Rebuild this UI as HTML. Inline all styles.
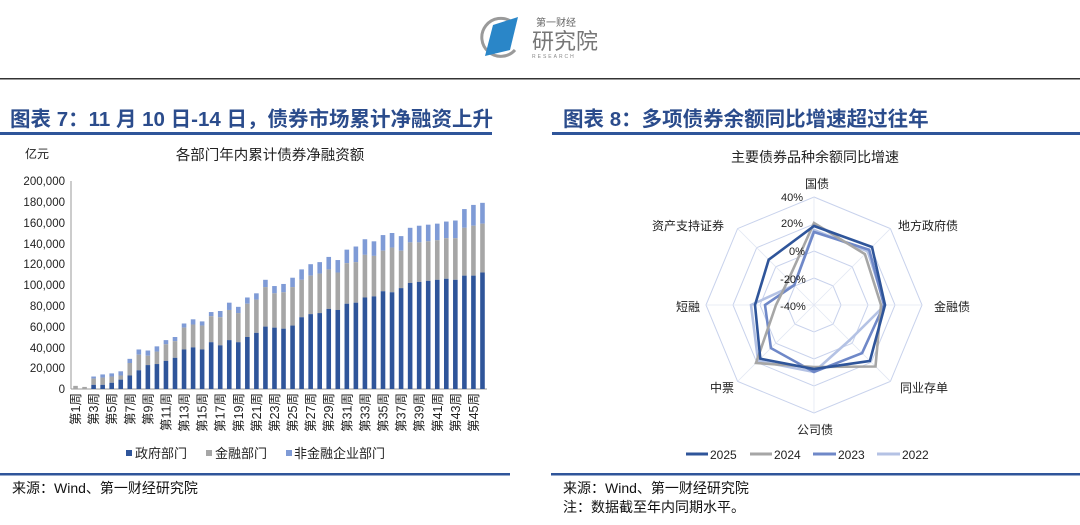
<!DOCTYPE html>
<html><head><meta charset="utf-8"><style>
body{margin:0;background:#fff;width:1080px;height:525px;overflow:hidden}
svg{display:block;font-family:"Liberation Sans","Noto Sans CJK SC",sans-serif}
</style></head><body>
<svg id="s" width="1080" height="525" viewBox="0 0 1080 525">
<!-- logo -->
<path d="M512,22 A19,19 0 1 0 515,50" fill="none" stroke="#9a9a9a" stroke-width="3"/>
<polygon points="493,25 518,17 510,50 485,56" fill="#2a86c8"/>
<text x="536" y="26" font-size="10" fill="#666">第一财经</text>
<text x="532" y="49" font-size="22" fill="#777">研究院</text>
<text x="532" y="58" font-size="5" fill="#888" letter-spacing="2">RESEARCH</text>
<rect x="0" y="78" width="1080" height="1.5" fill="#333"/>
<!-- headings -->
<text x="10" y="126" font-size="20.5" font-weight="bold" fill="#2B4C8C">图表 7：11 月 10 日-14 日，债券市场累计净融资上升</text>
<text x="563" y="126" font-size="20.5" font-weight="bold" fill="#2B4C8C">图表 8：多项债券余额同比增速超过往年</text>
<rect x="0" y="132" width="492" height="3" fill="#2F559A"/>
<rect x="552" y="132" width="528" height="3" fill="#2F559A"/>
<rect x="0" y="473" width="510" height="2.5" fill="#2F559A"/>
<rect x="551" y="473" width="529" height="2.5" fill="#2F559A"/>
<text x="12" y="493" font-size="14" fill="#111">来源：Wind、第一财经研究院</text>
<text x="563" y="493" font-size="14" fill="#111">来源：Wind、第一财经研究院</text>
<text x="563" y="512" font-size="14" fill="#111">注：数据截至年内同期水平。</text>
<!-- bar chart -->
<text x="25" y="158" font-size="12" fill="#222">亿元</text>
<text x="270" y="160" font-size="14.5" fill="#222" text-anchor="middle">各部门年内累计债券净融资额</text>
<g font-size="11.5" fill="#222" text-anchor="end">
<text x="65" y="185">200,000</text><text x="65" y="206">180,000</text><text x="65" y="227">160,000</text><text x="65" y="248">140,000</text><text x="65" y="268">120,000</text><text x="65" y="289">100,000</text><text x="65" y="310">80,000</text><text x="65" y="331">60,000</text><text x="65" y="352">40,000</text><text x="65" y="372">20,000</text><text x="65" y="393">0</text>
</g>
<line x1="71" y1="181" x2="71" y2="389" stroke="#999"/>
<line x1="71" y1="389" x2="487" y2="389" stroke="#999"/>
<g id="bars"></g>
<g id="xl" font-size="12.5" fill="#222" text-anchor="end"></g>
<rect x="126" y="450" width="6" height="6" fill="#2F559A"/><text x="135" y="458" font-size="13" fill="#222">政府部门</text>
<rect x="206" y="450" width="6" height="6" fill="#A6A6A6"/><text x="215" y="458" font-size="13" fill="#222">金融部门</text>
<rect x="286" y="450" width="6" height="6" fill="#7F9BD6"/><text x="294" y="458" font-size="13" fill="#222">非金融企业部门</text>
<!-- radar -->
<text x="815" y="162" font-size="14" fill="#222" text-anchor="middle">主要债券品种余额同比增速</text>
<g id="radar"></g>
<g font-size="12" fill="#222" text-anchor="middle">
<text x="817" y="188">国债</text>
<text x="928" y="230">地方政府债</text>
<text x="952" y="311">金融债</text>
<text x="924" y="392">同业存单</text>
<text x="815" y="434">公司债</text>
<text x="722" y="392">中票</text>
<text x="688" y="311">短融</text>
<text x="688" y="230">资产支持证券</text>
</g>
<g font-size="11" fill="#222" text-anchor="middle">
<text x="792" y="201">40%</text><text x="792" y="227">20%</text><text x="797" y="255">0%</text><text x="793" y="283">-20%</text><text x="793" y="310">-40%</text>
</g>
<g font-size="12" fill="#222">
<line x1="686" y1="454" x2="708" y2="454" stroke="#2F559A" stroke-width="3"/><text x="710" y="459">2025</text>
<line x1="750" y1="454" x2="772" y2="454" stroke="#A6A6A6" stroke-width="3"/><text x="774" y="459">2024</text>
<line x1="813" y1="454" x2="836" y2="454" stroke="#6F88C8" stroke-width="3"/><text x="838" y="459">2023</text>
<line x1="877" y1="454" x2="900" y2="454" stroke="#B4C2E4" stroke-width="3"/><text x="902" y="459">2022</text>
</g>
</svg>
<script>
var NS="http://www.w3.org/2000/svg";
function el(p,t,a){var e=document.createElementNS(NS,t);for(var k in a)e.setAttribute(k,a[k]);p.appendChild(e);return e;}
var d=[[3,0,3],[2,0,2],[12,4,10],[14,4,11],[15,6,12],[17,9,13],[29,13,25],[38,18,33],[37,23,32],[41,24,36],[47,27,43],[50,30,46],[63,38,59],[67,40,62],[65,38,61],[74,45,70],[75,42,69],[83,47,76],[79,45,73],[88,50,82],[92,54,86],[105,60,98],[99,59,92],[101,58,93],[107,61,98],[115,69,105],[120,72,109],[122,73,111],[127,77,115],[124,76,112],[134,82,121],[137,83,122],[144,88,129],[142,89,128],[148,94,133],[150,93,136],[147,97,133],[155,102,141],[157,103,141],[158,104,142],[159,105,143],[161,106,145],[162,105,145],[173,109,155],[177,109,157],[179,112,159]];
var g=document.getElementById('bars'),k=1.04,sp=416/46;
d.forEach(function(r,i){var cx=71+sp*(i+0.5),x=cx-2.3,w=4.6;
function y(v){return 389-v*k;}
el(g,'rect',{x:x,y:y(r[0]),width:w,height:(r[0]-r[2])*k,fill:'#7F9BD6'});
el(g,'rect',{x:x,y:y(r[2]),width:w,height:(r[2]-r[1])*k,fill:'#A6A6A6'});
el(g,'rect',{x:x,y:y(r[1]),width:w,height:r[1]*k,fill:'#2F559A'});
});
var xl=document.getElementById('xl');
for(var i=0;i<46;i+=2){var cx=71+sp*(i+0.5);var t=el(xl,'text',{transform:'translate('+(cx+4.5)+',393) rotate(-90)'});t.textContent='第'+(i+1)+'周';}
var R=document.getElementById('radar'),cx=814,cy=305;
function pts(rr){return rr.map(function(r,j){var a=j*Math.PI/4;return (cx+r*Math.sin(a)).toFixed(1)+','+(cy-r*Math.cos(a)).toFixed(1);}).join(' ');}
[27,54,81,108].forEach(function(r){el(R,'polygon',{points:pts([r,r,r,r,r,r,r,r]),fill:'none',stroke:'#C8D2EC','stroke-width':1});});
for(var j=0;j<8;j++){var a=j*Math.PI/4;el(R,'line',{x1:cx,y1:cy,x2:cx+108*Math.sin(a),y2:cy-108*Math.cos(a),stroke:'#E2E7F3','stroke-width':0.8});}
var S=[[[75,76,71,50,67,79,63,28],'#B4C2E4'],[[73,78,70,68,67,61,49,28],'#6F88C8'],[[82,72,67,87,62,82,38,36],'#A6A6A6'],[[79,82,71,79,64,76,59,64],'#2F559A']];
S.forEach(function(s){el(R,'polygon',{points:pts(s[0]),fill:'none',stroke:s[1],'stroke-width':2.6,'stroke-linejoin':'miter'});});
</script>
</body></html>
